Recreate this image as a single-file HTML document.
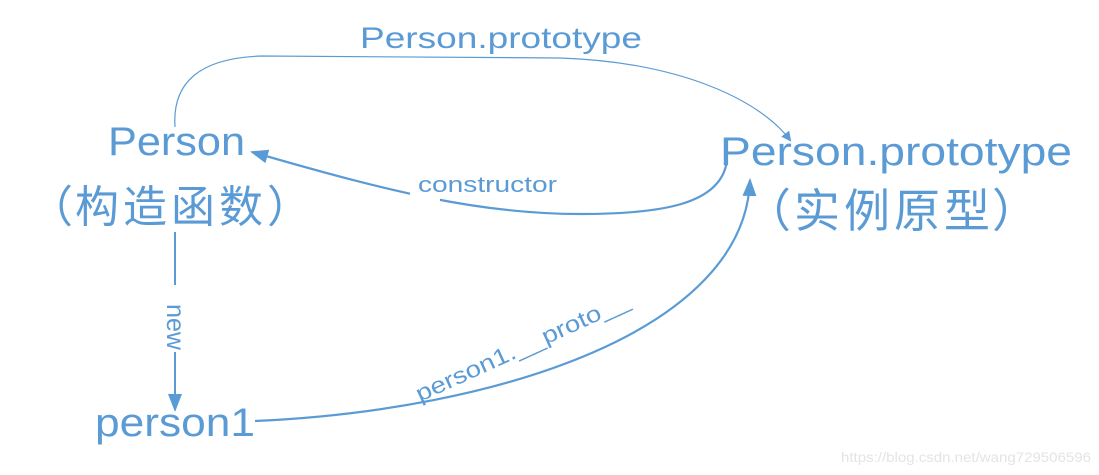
<!DOCTYPE html>
<html><head><meta charset="utf-8"><style>
html,body{margin:0;padding:0;background:#fff;width:1099px;height:475px;overflow:hidden}
svg{display:block}
text{font-family:"Liberation Sans","Noto Sans CJK SC",sans-serif;fill:#5b9bd5}
.c{font-family:"Noto Sans CJK SC",sans-serif}
</style></head><body>
<svg width="1099" height="475" viewBox="0 0 1099 475" xmlns="http://www.w3.org/2000/svg">
<defs>
<marker id="a" markerWidth="10" markerHeight="10" refX="8" refY="5" orient="auto" markerUnits="userSpaceOnUse"><path d="M0,0 L10,5 L0,10 Z" fill="#5b9bd5"/></marker>
<marker id="b" markerWidth="18" markerHeight="14" refX="16" refY="7" orient="auto" markerUnits="userSpaceOnUse"><path d="M0,0 L18,7 L0,14 Z" fill="#5b9bd5"/></marker>
</defs>
<g fill="none" stroke="#5b9bd5">
<path d="M175,127 C172,82 200,58 262,56 L560,58 C680,62 760,100 790,140" stroke-width="1.2" marker-end="url(#a)"/>
<path d="M727,160 C722,205 660,214 580,214 C480,214 390,192 252,152" stroke-width="2.2" marker-end="url(#b)"/>
<path d="M175,232 L175,285 M175,352 L175,393" stroke-width="2"/>
<path d="M175,393 L175,410" stroke-width="2" marker-end="url(#b)"/>
<path d="M255,421 C500,410 745,330 750,180" stroke-width="2.2" marker-end="url(#b)"/>
</g>
<rect x="410" y="190" width="30" height="14" fill="#fff"/>
<text x="360" y="48" font-size="30" textLength="282" lengthAdjust="spacingAndGlyphs">Person.prototype</text>
<text x="108" y="155" font-size="40" textLength="137" lengthAdjust="spacingAndGlyphs">Person</text>
<text class="c" font-size="44" y="222"><tspan x="29">（</tspan><tspan x="75">构</tspan><tspan x="123">造</tspan><tspan x="171">函</tspan><tspan x="219">数</tspan><tspan x="267">）</tspan></text>
<text x="720" y="165" font-size="40" textLength="352" lengthAdjust="spacingAndGlyphs">Person.prototype</text>
<text class="c" font-size="46" y="227"><tspan x="745">（</tspan><tspan x="794">实</tspan><tspan x="844">例</tspan><tspan x="894">原</tspan><tspan x="944">型</tspan><tspan x="992">）</tspan></text>
<text x="95" y="436" font-size="40" textLength="160" lengthAdjust="spacingAndGlyphs">person1</text>
<text x="418" y="192" font-size="22" textLength="139" lengthAdjust="spacingAndGlyphs">constructor</text>
<text transform="translate(167,304) rotate(90)" font-size="26" textLength="46" lengthAdjust="spacingAndGlyphs">new</text>
<text transform="translate(420,402) rotate(-24.5)" font-size="23" textLength="232" lengthAdjust="spacingAndGlyphs">person1.__proto__</text>
<text x="841" y="462" font-size="14" style="fill:#e4e4e4" textLength="250" lengthAdjust="spacingAndGlyphs">https://blog.csdn.net/wang729506596</text>
</svg>
</body></html>
